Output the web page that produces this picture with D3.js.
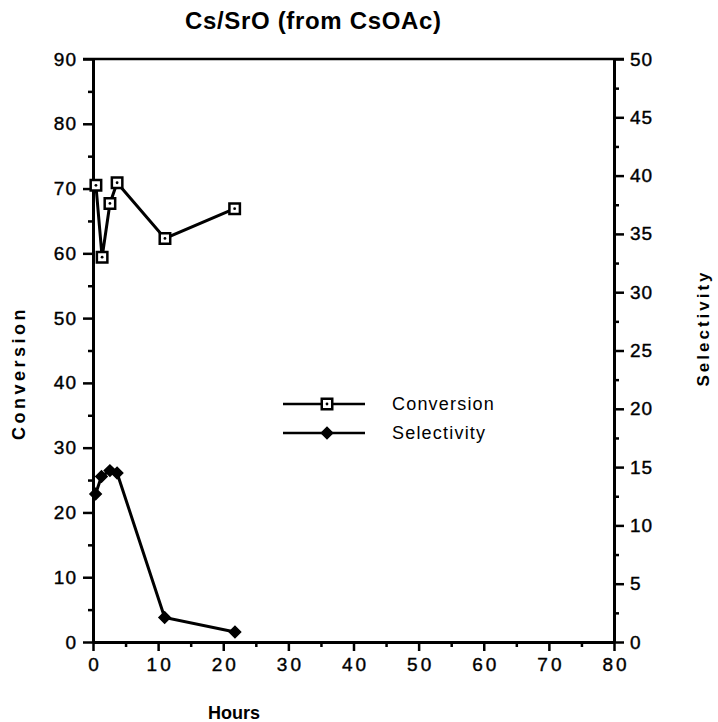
<!DOCTYPE html>
<html><head><meta charset="utf-8">
<script src="https://cdn.jsdelivr.net/npm/d3@7"></script>
<style>body{margin:0;background:#fff}svg{display:block}text{font-family:"Liberation Sans",Arial,sans-serif;fill:#000}</style>
</head><body><svg id="c" width="718" height="722"></svg>
<script>
const title = "Cs/SrO (from CsOAc)";
const hours = [0.45, 1.4, 2.6, 3.7, 11.05, 21.75];
const conversion = [70.5, 59.4, 67.7, 70.9, 62.3, 66.9];
const selHours = [0.4, 1.3, 2.6, 3.7, 11.0, 21.8];
const selectivity = [12.7, 14.2, 14.7, 14.5, 2.1, 0.85];
const xTicks = [0, 10, 20, 30, 40, 50, 60, 70, 80];
const yLeftTicks = [0, 10, 20, 30, 40, 50, 60, 70, 80, 90];
const yRightTicks = [0, 5, 10, 15, 20, 25, 30, 35, 40, 45, 50];
const seriesNames = ["Conversion", "Selectivity"];

const svg = d3.select("#c");
const L = 93, R = 614, T = 59, B = 642;
const x = d3.scaleLinear().domain([0, 80]).range([L, R]);
const yL = d3.scaleLinear().domain([0, 90]).range([B, T]);
const yR = d3.scaleLinear().domain([0, 50]).range([B, T]);

// x axis
const xAx = svg.append("g").attr("transform", `translate(0,${B})`)
  .call(d3.axisBottom(x).tickValues(xTicks).tickSize(9).tickSizeOuter(0).tickPadding(7).tickFormat(d3.format("d")));
svg.append("g").attr("transform", `translate(0,${B})`)
  .call(d3.axisBottom(x).tickValues(d3.range(5, 80, 10)).tickSize(5).tickFormat(""))
  .call(g => g.select(".domain").remove());
// left axis
const yAx = svg.append("g").attr("transform", `translate(${L},0)`)
  .call(d3.axisLeft(yL).tickValues(yLeftTicks).tickSize(10).tickSizeOuter(0).tickPadding(6));
svg.append("g").attr("transform", `translate(${L},0)`)
  .call(d3.axisLeft(yL).tickValues(d3.range(5, 90, 10)).tickSize(5).tickFormat(""))
  .call(g => g.select(".domain").remove());
// right axis
const rAx = svg.append("g").attr("transform", `translate(${R},0)`)
  .call(d3.axisRight(yR).tickValues(yRightTicks).tickSize(10).tickSizeOuter(0).tickPadding(6));
svg.append("g").attr("transform", `translate(${R},0)`)
  .call(d3.axisRight(yR).tickValues(d3.range(2.5, 50, 5)).tickSize(5).tickFormat(""))
  .call(g => g.select(".domain").remove());
// top frame
svg.append("line").attr("x1", L - 10).attr("x2", R + 10).attr("y1", T).attr("y2", T)
  .attr("stroke", "#000").attr("stroke-width", 2.5);

svg.selectAll(".domain").attr("stroke", "#000").attr("stroke-width", 3);
svg.selectAll(".tick line").attr("stroke", "#000").attr("stroke-width", 2.5);
svg.selectAll(".tick text").attr("font-size", 19).attr("font-family", "Liberation Sans, Arial, sans-serif")
  .attr("fill", "#000").attr("stroke", "#000").attr("stroke-width", 0.4);
xAx.selectAll(".tick text").attr("letter-spacing", "3px").attr("dx", "1.5px");
yAx.selectAll(".tick text").attr("letter-spacing", "1px");
rAx.selectAll(".tick text").attr("letter-spacing", "1px");

// titles
svg.append("text").attr("x", 185).attr("y", 29).attr("font-size", 24).attr("font-weight", "bold")
  .attr("textLength", 256).attr("lengthAdjust", "spacing").text(title);
svg.append("text").attr("x", 234).attr("y", 719).attr("text-anchor", "middle")
  .attr("font-size", 18).attr("font-weight", "bold").text("Hours");
svg.append("text").attr("transform", "translate(25,373) rotate(-90)").attr("text-anchor", "middle")
  .attr("font-size", 18).attr("font-weight", "bold").attr("letter-spacing", "3.5px").text("Conversion");
svg.append("text").attr("transform", "translate(709,328) rotate(-90)").attr("text-anchor", "middle")
  .attr("font-size", 17).attr("font-weight", "bold").attr("letter-spacing", "3px").text("Selectivity");

// lines
const convData = hours.map((h, i) => [h, conversion[i]]);
const selData = selHours.map((h, i) => [h, selectivity[i]]);
svg.append("path").datum(convData).attr("fill", "none").attr("stroke", "#000").attr("stroke-width", 3)
  .attr("d", d3.line().x(d => x(d[0])).y(d => yL(d[1])));
svg.append("path").datum(selData).attr("fill", "none").attr("stroke", "#000").attr("stroke-width", 3)
  .attr("d", d3.line().x(d => x(d[0])).y(d => yR(d[1])));

const sq = d3.symbol().type(d3.symbolSquare).size(110);
const dia = d3.symbol().type(d3.symbolSquare).size(64);
function squareMarker(g, cx, cy) {
  g.append("path").attr("d", sq()).attr("transform", `translate(${cx},${cy})`)
    .attr("fill", "#fff").attr("stroke", "#000").attr("stroke-width", 2.5);
  g.append("circle").attr("cx", cx).attr("cy", cy).attr("r", 1.4).attr("fill", "#000");
}
function diamondMarker(g, cx, cy) {
  g.append("path").attr("d", dia()).attr("transform", `translate(${cx},${cy}) rotate(45)`)
    .attr("fill", "#000").attr("stroke", "#000").attr("stroke-width", 1.5);
}
const mk = svg.append("g");
convData.forEach(d => squareMarker(mk, x(d[0]), yL(d[1])));
selData.forEach(d => diamondMarker(mk, x(d[0]), yR(d[1])));

// legend
const lg = svg.append("g");
const legY = [404, 433];
seriesNames.forEach((n, i) => {
  lg.append("line").attr("x1", 283).attr("x2", 365).attr("y1", legY[i]).attr("y2", legY[i])
    .attr("stroke", "#000").attr("stroke-width", 2.5);
  if (i === 0) squareMarker(lg, 327, legY[i]);
  else diamondMarker(lg, 327, legY[i]);
  lg.append("text").attr("x", 392).attr("y", legY[i] + 6).attr("font-size", 18)
    .attr("letter-spacing", "1.2px").text(n);
});
</script></body></html>
